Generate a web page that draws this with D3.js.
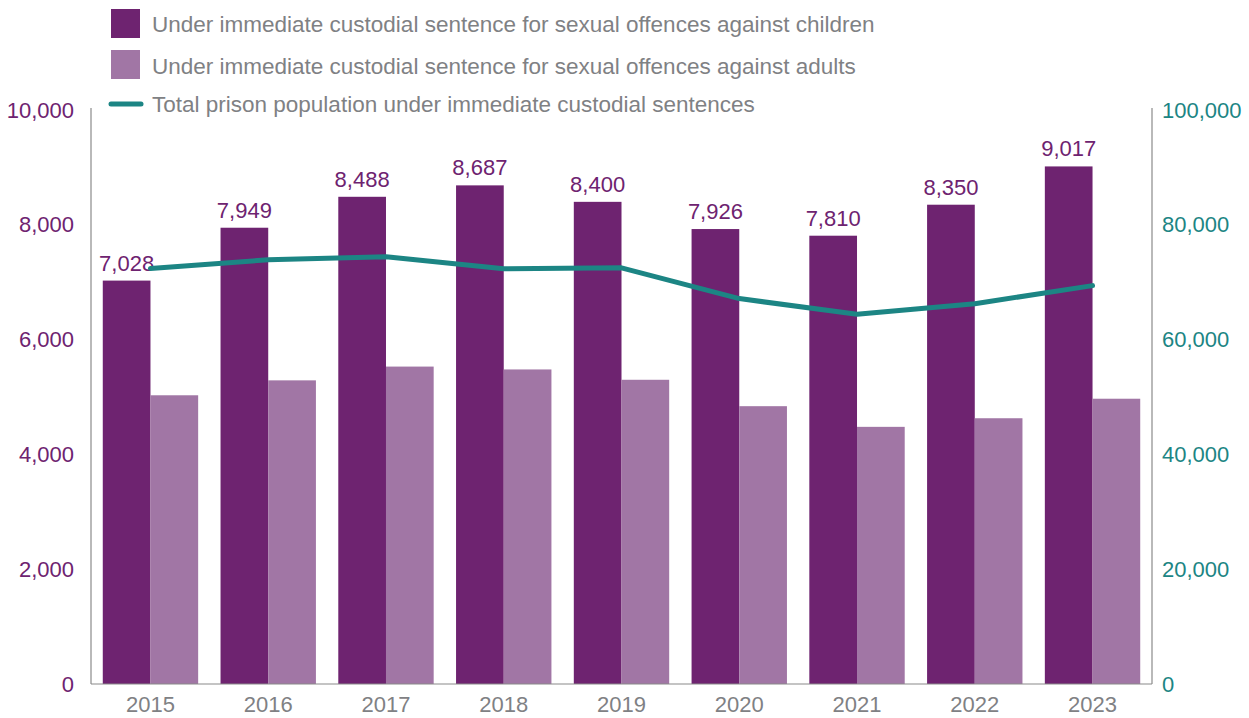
<!DOCTYPE html>
<html>
<head>
<meta charset="utf-8">
<script src="https://cdn.jsdelivr.net/npm/d3@7"></script>
<style>
  html, body { margin: 0; padding: 0; background: #fff; }
  svg { display: block; font-family: "Liberation Sans", Arial, Helvetica, sans-serif; }
</style>
</head>
<body>
<svg id="chart" width="1249" height="718"></svg>
<script>
// Sexual offence prisoners under immediate custodial sentence, 2015–2023
const years = ["2015", "2016", "2017", "2018", "2019", "2020", "2021", "2022", "2023"];
const childOffences = [7028, 7949, 8488, 8687, 8400, 7926, 7810, 8350, 9017];
const adultOffences = [5030, 5290, 5530, 5480, 5300, 4840, 4480, 4630, 4970];
const totalPopulation = [72400, 73900, 74450, 72350, 72500, 67150, 64400, 66250, 69400];
const leftTicks = [0, 2000, 4000, 6000, 8000, 10000];
const rightTicks = [0, 20000, 40000, 60000, 80000, 100000];
const legendLabels = [
  "Under immediate custodial sentence for sexual offences against children",
  "Under immediate custodial sentence for sexual offences against adults",
  "Total prison population under immediate custodial sentences"
];

const colDark = "#6e2370", colLight = "#a176a5", colTeal = "#1c8584";
const colAxis = "#8a8a8a", colText = "#7f8184";
const fontSize = 22;

const svg = d3.select("#chart");
const m = { left: 91, right: 1152, top: 110, bottom: 684 };

const x = d3.scaleBand().domain(years).range([m.left, m.right]).paddingInner(0.19).paddingOuter(0.1);
const xSub = d3.scaleBand().domain(["child", "adult"]).range([0, x.bandwidth()]);
const yL = d3.scaleLinear().domain([0, 10000]).range([m.bottom, m.top]);
const yR = d3.scaleLinear().domain([0, 100000]).range([m.bottom, m.top]);
const fmt = d3.format(",");

// bars
const g = svg.append("g");
g.selectAll("rect.child").data(years).join("rect")
  .attr("x", d => x(d) + xSub("child"))
  .attr("width", xSub.bandwidth())
  .attr("y", (d, i) => yL(childOffences[i]))
  .attr("height", (d, i) => yL(0) - yL(childOffences[i]))
  .attr("fill", colDark);
g.selectAll("rect.adult").data(years).join("rect")
  .attr("x", d => x(d) + xSub("adult"))
  .attr("width", xSub.bandwidth())
  .attr("y", (d, i) => yL(adultOffences[i]))
  .attr("height", (d, i) => yL(0) - yL(adultOffences[i]))
  .attr("fill", colLight);

// value labels over the children bars
g.selectAll("text.val").data(years).join("text")
  .attr("x", d => x(d) + xSub("child") + xSub.bandwidth() / 2)
  .attr("y", (d, i) => yL(childOffences[i]) - 10)
  .attr("text-anchor", "middle")
  .attr("font-size", fontSize)
  .attr("fill", colDark)
  .text((d, i) => fmt(childOffences[i]));

// axes
const axL = svg.append("g").attr("transform", `translate(${m.left},0)`)
  .call(d3.axisLeft(yL).tickValues(leftTicks).tickSize(0).tickPadding(17).tickFormat(fmt));
const axR = svg.append("g").attr("transform", `translate(${m.right},0)`)
  .call(d3.axisRight(yR).tickValues(rightTicks).tickSize(0).tickPadding(10).tickFormat(fmt));
const axB = svg.append("g").attr("transform", `translate(0,${m.bottom})`)
  .call(d3.axisBottom(x).tickSize(0).tickPadding(14));
[axL, axR, axB].forEach(a => {
  a.select(".domain").attr("stroke", colAxis).attr("stroke-width", 1.2);
  a.selectAll("text").attr("font-size", fontSize).attr("font-family", "Liberation Sans, Arial, sans-serif");
});
axL.select(".domain").attr("d", `M0,${m.top - 2}V${m.bottom}`);
axR.select(".domain").attr("d", `M0,${m.top - 2}V${m.bottom}`);
axB.select(".domain").attr("d", `M${m.left},0H${m.right}`);
axL.selectAll("text").attr("fill", colDark);
axR.selectAll("text").attr("fill", colTeal);
axB.selectAll("text").attr("fill", colText).attr("dy", "0.62em");

// total population line
const line = d3.line()
  .x((d, i) => x(years[i]) + x.bandwidth() / 2)
  .y(d => yR(d));
svg.append("path").datum(totalPopulation)
  .attr("d", line)
  .attr("fill", "none")
  .attr("stroke", colTeal)
  .attr("stroke-width", 5)
  .attr("stroke-linecap", "round")
  .attr("stroke-linejoin", "round");

// legend
const lg = svg.append("g");
const rowsY = [24, 66, 104];
lg.append("rect").attr("x", 111).attr("y", rowsY[0] - 15).attr("width", 29).attr("height", 29).attr("fill", colDark);
lg.append("rect").attr("x", 111).attr("y", rowsY[1] - 16).attr("width", 29).attr("height", 29).attr("fill", colLight);
lg.append("line").attr("x1", 111).attr("x2", 141).attr("y1", rowsY[2]).attr("y2", rowsY[2])
  .attr("stroke", colTeal).attr("stroke-width", 5).attr("stroke-linecap", "round");
lg.selectAll("text").data(legendLabels).join("text")
  .attr("x", 152)
  .attr("y", (d, i) => rowsY[i])
  .attr("dy", "0.35em")
  .attr("font-size", fontSize + 0.5)
  .attr("fill", colText)
  .text(d => d);
</script>
</body>
</html>
